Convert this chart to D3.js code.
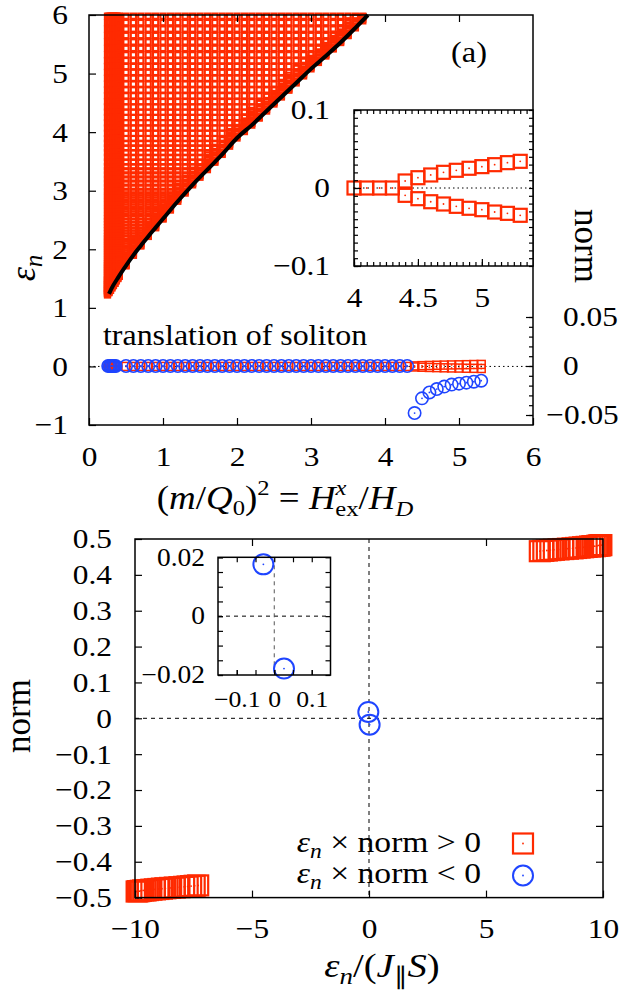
<!DOCTYPE html>
<html>
<head>
<meta charset="utf-8">
<script src="https://cdn.jsdelivr.net/npm/d3@7"></script>
<style>
body { margin: 0; background: #fff; }
svg { font-family: "Liberation Serif", "Times New Roman", serif; font-size: 28px; }
svg text { fill: #000; }
</style>
</head>
<body>
<svg id="fig" width="621" height="992"></svg>
<script>
// ---- top panel: spectrum columns (x) and lower band edge of each column
var specX = [0.25, 0.27, 0.29, 0.31, 0.33, 0.35, 0.37, 0.39, 0.41,
  0.5, 0.6, 0.7, 0.8, 0.9, 1.0, 1.1, 1.2, 1.3, 1.4, 1.5, 1.6, 1.7, 1.8, 1.9, 2.0,
  2.1, 2.2, 2.3, 2.4, 2.5, 2.6, 2.7, 2.8, 2.9, 3.0, 3.1, 3.2, 3.3, 3.4, 3.5, 3.6, 3.7];
var specLow = [1.22, 1.26, 1.30, 1.34, 1.38, 1.42, 1.46, 1.50, 1.54,
  1.72, 1.90, 2.06, 2.22, 2.37, 2.52, 2.67, 2.82, 2.96, 3.10, 3.23, 3.36, 3.49, 3.62, 3.76, 3.90,
  4.01, 4.12, 4.24, 4.36, 4.48, 4.60, 4.72, 4.84, 4.96, 5.08, 5.19, 5.30, 5.42, 5.53, 5.65, 5.78, 5.90];
// levels seen in the band (rows shared by the columns), read from the top down
var bandLevels = [5.98, 5.87, 5.76, 5.65, 5.54, 5.43, 5.32, 5.22, 5.12, 5.02, 4.92, 4.82, 4.72, 4.62,
  4.52, 4.43, 4.34, 4.25, 4.16, 4.07, 3.98, 3.89, 3.81, 3.73, 3.65, 3.57, 3.49, 3.41, 3.34, 3.27,
  3.20, 3.13, 3.06, 2.99, 2.93, 2.87, 2.81, 2.75, 2.69, 2.63, 2.57, 2.52, 2.47, 2.42, 2.37, 2.32,
  2.27, 2.22, 2.18, 2.14, 2.10, 2.06, 2.02, 1.98, 1.94, 1.90, 1.86, 1.82, 1.78, 1.75, 1.72, 1.69,
  1.66, 1.63, 1.60, 1.57, 1.54, 1.51, 1.48, 1.45, 1.42, 1.39, 1.36, 1.33, 1.30, 1.27, 1.24];
// dense levels just above each column's edge
var edgeLevels = [0.0, 0.03, 0.07, 0.12, 0.18, 0.25];
// black curve: lower band edge
var edgeX = [0.27, 0.3, 0.4, 0.5, 0.6, 0.7, 0.8, 0.9, 1.0, 1.2, 1.4, 1.6, 1.8, 2.0, 2.2, 2.4, 2.6, 2.8, 3.0, 3.2, 3.4, 3.6, 3.77];
var edgeY = [1.24, 1.32, 1.53, 1.72, 1.90, 2.06, 2.22, 2.37, 2.52, 2.82, 3.10, 3.36, 3.62, 3.90, 4.12, 4.36, 4.60, 4.84, 5.08, 5.30, 5.53, 5.78, 6.0];
// zero (translation) mode
var zeroX = [0.26, 0.28, 0.30, 0.32, 0.34, 0.36,
  0.5, 0.6, 0.7, 0.8, 0.9, 1.0, 1.1, 1.2, 1.3, 1.4, 1.5, 1.6, 1.7, 1.8, 1.9, 2.0, 2.1, 2.2,
  2.3, 2.4, 2.5, 2.6, 2.7, 2.8, 2.9, 3.0, 3.1, 3.2, 3.3, 3.4, 3.5, 3.6, 3.7, 3.8, 3.9, 4.0,
  4.1, 4.2, 4.3];
var splitX = [4.4, 4.5, 4.6, 4.7, 4.8, 4.9, 5.0, 5.1, 5.2, 5.3];
var splitUp = [0.0090, 0.0132, 0.0167, 0.0201, 0.0227, 0.0253, 0.0274, 0.0299, 0.0325, 0.0342];
var splitDown = [-0.0094, -0.0137, -0.0176, -0.0205, -0.0235, -0.0260, -0.0278, -0.0308, -0.0325, -0.0350];
var splitNorm = [-0.048, -0.033, -0.027, -0.0235, -0.021, -0.019, -0.018, -0.017, -0.016, -0.015];
var insetZeroX = [4.0, 4.1, 4.2, 4.3];

// ---- bottom panel
var posEps = [7.3, 7.45, 7.6, 7.75, 7.9, 8.1, 8.3, 8.5, 8.7, 8.85, 9.0, 9.15, 9.3, 9.45, 9.55, 9.65, 9.75, 9.82, 9.88, 9.93];
var posNorm = [0.466, 0.467, 0.468, 0.469, 0.470, 0.471, 0.472, 0.473, 0.474, 0.475, 0.476, 0.477, 0.478, 0.479, 0.480, 0.480, 0.481, 0.482, 0.482, 0.483];
var negEps = [-9.93, -9.88, -9.82, -9.75, -9.65, -9.55, -9.45, -9.3, -9.15, -9.0, -8.85, -8.7, -8.5, -8.3, -8.1, -7.9, -7.75, -7.6, -7.45, -7.3];
var negNorm = [-0.483, -0.482, -0.482, -0.481, -0.480, -0.480, -0.479, -0.478, -0.477, -0.476, -0.475, -0.474, -0.473, -0.472, -0.471, -0.470, -0.469, -0.468, -0.467, -0.466];
var zmEps = [-0.029, 0.026];
var zmNorm = [0.0176, -0.0178];

var RED = "#ff2a00", BLUE = "#1f45ff";
var STRETCH = 1.12;   // glyphs in the figure are wider than tall
var svg = d3.select("#fig");

// scales
var x = d3.scaleLinear().domain([0, 6]).range([89, 533]);
var y = d3.scaleLinear().domain([-1, 6]).range([425, 15]);
var y2 = d3.scaleLinear().domain([-0.05, 0.05]).range([415, 317]);
var xi = d3.scaleLinear().domain([4, 5.4]).range([354, 533]);
var yi = d3.scaleLinear().domain([-0.1, 0.1]).range([266, 110]);
var xb = d3.scaleLinear().domain([-10, 10]).range([135, 603]);
var yb = d3.scaleLinear().domain([-0.5, 0.5]).range([897.6, 539]);
var xbi = d3.scaleLinear().domain([-0.15, 0.15]).range([218, 330.5]);
var ybi = d3.scaleLinear().domain([-0.02, 0.02]).range([675, 557.3]);

function axis(gen, scale, vals, len, fmt, pad, tr) {
  var a = gen(scale).tickValues(vals).tickSizeInner(-len).tickSizeOuter(0).tickPadding(pad)
    .tickFormat(fmt === null ? "" : d3.format(fmt));
  var g = svg.append("g").attr("transform", tr).call(a);
  g.attr("font-size", null).attr("font-family", null);
  g.select(".domain").remove();
  g.selectAll("line").attr("stroke", "#000").attr("stroke-width", 1.2);
  g.selectAll("text").attr("fill", "#000");
  return g;
}
function range(a, b, s) { return d3.range(Math.round((b - a) / s) + 1).map(function(i){ return +(a + i * s).toFixed(4); }); }

function squares(g, pts, size, sw, color) {
  var s = g.selectAll(null).data(pts).enter();
  s.append("rect").attr("x", function(d){ return d[0] - size / 2; }).attr("y", function(d){ return d[1] - size / 2; })
    .attr("width", size).attr("height", size).attr("fill", "none").attr("stroke", color).attr("stroke-width", sw);
  s.append("circle").attr("cx", function(d){ return d[0]; }).attr("cy", function(d){ return d[1]; })
    .attr("r", 0.9).attr("fill", color);
}
function circles(g, pts, r, sw, color) {
  var s = g.selectAll(null).data(pts).enter();
  s.append("circle").attr("cx", function(d){ return d[0]; }).attr("cy", function(d){ return d[1]; })
    .attr("r", r).attr("fill", "none").attr("stroke", color).attr("stroke-width", sw);
  s.append("circle").attr("cx", function(d){ return d[0]; }).attr("cy", function(d){ return d[1]; })
    .attr("r", 0.9).attr("fill", color);
}

// ================= TOP PANEL =================
svg.append("line").attr("x1", x(0)).attr("x2", x(6)).attr("y1", y(0)).attr("y2", y(0))
  .attr("stroke", "#000").attr("stroke-width", 1).attr("stroke-dasharray", "1.5,3");

// spectrum
var specPts = [];
specX.forEach(function(cx, i) {
  var lo = specLow[i];
  bandLevels.forEach(function(e){ if (e >= lo) specPts.push([x(cx), y(e)]); });
  edgeLevels.forEach(function(o){ if (lo + o <= 6) specPts.push([x(cx), y(lo + o)]); });
});
svg.append("g").selectAll("rect").data(specPts).enter().append("rect")
  .attr("x", function(d){ return d[0] - 2.6; }).attr("y", function(d){ return d[1] - 2.6; })
  .attr("width", 5.2).attr("height", 5.2).attr("fill", "none").attr("stroke", RED).attr("stroke-width", 2.1);

// band edge
svg.append("path").datum(edgeX.map(function(v, i){ return [v, edgeY[i]]; }))
  .attr("d", d3.line().x(function(d){ return x(d[0]); }).y(function(d){ return y(d[1]); }).curve(d3.curveMonotoneX))
  .attr("fill", "none").attr("stroke", "#000").attr("stroke-width", 4);

// zero mode: eigenvalues (red, left axis) and norms (blue, right axis)
var gZ = svg.append("g");
squares(gZ, zeroX.map(function(v){ return [x(v), y(0)]; }), 8, 1.5, RED);
squares(gZ, splitX.map(function(v, i){ return [x(v), y(splitUp[i])]; }), 8, 1.5, RED);
squares(gZ, splitX.map(function(v, i){ return [x(v), y(splitDown[i])]; }), 8, 1.5, RED);
circles(gZ, zeroX.map(function(v){ return [x(v), y2(0)]; }), 6.2, 1.6, BLUE);
circles(gZ, splitX.map(function(v, i){ return [x(v), y2(splitNorm[i])]; }), 6.2, 1.6, BLUE);

// frame + axes
svg.append("rect").attr("x", 89).attr("y", 15).attr("width", 444).attr("height", 410)
  .attr("fill", "none").attr("stroke", "#000").attr("stroke-width", 1.5);
axis(d3.axisLeft, y, range(-1, 6, 1), 7, "d", 21, "translate(89,0)");
axis(d3.axisBottom, x, range(0, 6, 1), 7, "d", 21, "translate(0,425)");
axis(d3.axisTop, x, range(1, 5, 1), 7, null, 0, "translate(0,15)");
axis(d3.axisRight, y2, range(-0.05, 0.05, 0.01), 4, null, 0, "translate(533,0)");
var gy2 = axis(d3.axisRight, y2, [-0.05, 0, 0.05], 7, "", 30, "translate(533,0)");
gy2.selectAll("text").attr("dx", function(d){ return d < 0 ? -15 : 0; });

// inset (top)
svg.append("rect").attr("x", 354).attr("y", 110).attr("width", 179).attr("height", 156).attr("fill", "#fff");
svg.append("line").attr("x1", 354).attr("x2", 533).attr("y1", yi(0)).attr("y2", yi(0))
  .attr("stroke", "#000").attr("stroke-width", 1).attr("stroke-dasharray", "1.5,3");
var gI = svg.append("g");
squares(gI, insetZeroX.map(function(v){ return [xi(v), yi(0)]; }), 13, 2.2, RED);
squares(gI, splitX.map(function(v, i){ return [xi(v), yi(splitUp[i])]; }), 13, 2.2, RED);
squares(gI, splitX.map(function(v, i){ return [xi(v), yi(splitDown[i])]; }), 13, 2.2, RED);
svg.append("rect").attr("x", 354).attr("y", 110).attr("width", 179).attr("height", 156)
  .attr("fill", "none").attr("stroke", "#000").attr("stroke-width", 1.5);
axis(d3.axisLeft, yi, range(-0.1, 0.1, 0.01), 4, null, 0, "translate(354,0)");
axis(d3.axisRight, yi, range(-0.1, 0.1, 0.01), 4, null, 0, "translate(533,0)");
axis(d3.axisLeft, yi, [-0.1, 0, 0.1], 7, "", 24, "translate(354,0)");
axis(d3.axisBottom, xi, range(4, 5.35, 0.05), 4, null, 0, "translate(0,266)");
axis(d3.axisTop, xi, range(4, 5.35, 0.05), 4, null, 0, "translate(0,110)");
axis(d3.axisBottom, xi, [4, 4.5, 5], 7, "", 21, "translate(0,266)");

// labels (top)
svg.append("text").attr("x", 103).attr("y", 345).attr("font-size", 28.5).text("translation of soliton");
svg.append("text").attr("x", 469).attr("y", 62).attr("text-anchor", "middle").attr("font-size", 29).text("(a)");
var tl = svg.append("text").attr("transform", "translate(35,268) rotate(-90)").attr("text-anchor", "middle").attr("font-size", 36);
tl.append("tspan").attr("font-style", "italic").text("ε");
tl.append("tspan").attr("font-style", "italic").attr("font-size", 25).attr("dy", 7).text("n");
svg.append("text").attr("transform", "translate(575,246) rotate(90)").attr("text-anchor", "middle").attr("font-size", 35).text("norm");

var xl = svg.append("text").attr("x", 285).attr("y", 509).attr("text-anchor", "middle").attr("font-size", 33);
xl.append("tspan").text("(");
xl.append("tspan").attr("font-style", "italic").text("m");
xl.append("tspan").text("/");
xl.append("tspan").attr("font-style", "italic").text("Q");
xl.append("tspan").attr("font-size", 22).attr("dy", 6).text("0");
xl.append("tspan").attr("dy", -6).text(")");
xl.append("tspan").attr("font-size", 22).attr("dy", -14).text("2");
xl.append("tspan").attr("dy", 14).text(" = ");
xl.append("tspan").attr("font-style", "italic").text("H");
xl.append("tspan").attr("font-style", "italic").attr("font-size", 22).attr("dy", -14).text("x");
xl.append("tspan").attr("font-size", 22).attr("dx", -10).attr("dy", 21).text("ex");
xl.append("tspan").attr("dy", -7).text("/");
xl.append("tspan").attr("font-style", "italic").text("H");
xl.append("tspan").attr("font-style", "italic").attr("font-size", 22).attr("dy", 7).text("D");

// ================= BOTTOM PANEL =================
svg.append("line").attr("x1", xb(-10)).attr("x2", xb(10)).attr("y1", yb(0)).attr("y2", yb(0))
  .attr("stroke", "#000").attr("stroke-width", 1).attr("stroke-dasharray", "4,4");
svg.append("line").attr("x1", xb(0)).attr("x2", xb(0)).attr("y1", yb(0.5)).attr("y2", yb(-0.5))
  .attr("stroke", "#000").attr("stroke-width", 1).attr("stroke-dasharray", "4,4");

var gB = svg.append("g");
squares(gB, posEps.map(function(v, i){ return [xb(v), yb(posNorm[i])]; }), 20, 2.2, RED);
squares(gB, negEps.map(function(v, i){ return [xb(v), yb(negNorm[i])]; }), 20, 2.2, RED);
circles(gB, zmEps.map(function(v, i){ return [xb(v), yb(zmNorm[i])]; }), 10, 2, BLUE);

svg.append("rect").attr("x", 135).attr("y", 539).attr("width", 468).attr("height", 358.6)
  .attr("fill", "none").attr("stroke", "#000").attr("stroke-width", 1.5);
axis(d3.axisLeft, yb, range(-0.5, 0.5, 0.1), 7, "", 23, "translate(135,0)");
axis(d3.axisRight, yb, range(-0.4, 0.4, 0.1), 7, null, 0, "translate(603,0)");
axis(d3.axisBottom, xb, range(-10, 10, 5), 7, "d", 21, "translate(0,897.6)");
axis(d3.axisTop, xb, [-5, 5], 7, null, 0, "translate(0,539)");

// inset (bottom)
svg.append("rect").attr("x", 218).attr("y", 557.3).attr("width", 112.5).attr("height", 117.7).attr("fill", "#fff");
svg.append("line").attr("x1", 218).attr("x2", 330.5).attr("y1", ybi(0)).attr("y2", ybi(0))
  .attr("stroke", "#000").attr("stroke-width", 1).attr("stroke-dasharray", "4,4");
svg.append("line").attr("x1", xbi(0)).attr("x2", xbi(0)).attr("y1", 557.3).attr("y2", 675)
  .attr("stroke", "#555").attr("stroke-width", 1).attr("stroke-dasharray", "4,4");
circles(svg.append("g"), zmEps.map(function(v, i){ return [xbi(v), ybi(zmNorm[i])]; }), 10, 2, BLUE);
svg.append("rect").attr("x", 218).attr("y", 557.3).attr("width", 112.5).attr("height", 117.7)
  .attr("fill", "none").attr("stroke", "#000").attr("stroke-width", 1.5);
axis(d3.axisLeft, ybi, range(-0.02, 0.02, 0.005), 5, null, 0, "translate(218,0)");
axis(d3.axisRight, ybi, range(-0.02, 0.02, 0.005), 5, null, 0, "translate(330.5,0)");
axis(d3.axisLeft, ybi, [-0.02, 0, 0.02], 5, "", 13, "translate(218,0)")
  .selectAll("text").attr("font-size", 24.5);
axis(d3.axisTop, xbi, range(-0.1, 0.1, 0.05), 5, null, 0, "translate(0,557.3)");
axis(d3.axisBottom, xbi, range(-0.1, 0.1, 0.05), 5, null, 0, "translate(0,675)");
axis(d3.axisBottom, xbi, [-0.1, 0, 0.1], 5, "", 16, "translate(0,675)")
  .selectAll("text").attr("font-size", 23);

// legend
var lg1 = svg.append("text").attr("x", 481).attr("y", 852).attr("text-anchor", "end").attr("font-size", 30);
lg1.append("tspan").attr("font-style", "italic").text("ε");
lg1.append("tspan").attr("font-style", "italic").attr("font-size", 21).attr("dy", 6).text("n");
lg1.append("tspan").attr("dy", -6).text(" × norm > 0");
var lg2 = svg.append("text").attr("x", 481).attr("y", 883).attr("text-anchor", "end").attr("font-size", 30);
lg2.append("tspan").attr("font-style", "italic").text("ε");
lg2.append("tspan").attr("font-style", "italic").attr("font-size", 21).attr("dy", 6).text("n");
lg2.append("tspan").attr("dy", -6).text(" × norm < 0");
squares(svg.append("g"), [[523, 843.5]], 20, 2.2, RED);
circles(svg.append("g"), [[523, 875.5]], 10, 2, BLUE);

// axis labels (bottom)
svg.append("text").attr("transform", "translate(30,716) rotate(-90)").attr("text-anchor", "middle").attr("font-size", 35).text("norm");
var bl = svg.append("text").attr("x", 382).attr("y", 977).attr("text-anchor", "middle").attr("font-size", 34.5);
bl.append("tspan").attr("font-style", "italic").text("ε");
bl.append("tspan").attr("font-style", "italic").attr("font-size", 24).attr("dy", 7).text("n");
bl.append("tspan").attr("dy", -7).text("/(");
bl.append("tspan").attr("font-style", "italic").text("J");
bl.append("tspan").attr("font-size", 24).attr("dy", 7).text("∥");
bl.append("tspan").attr("font-style", "italic").attr("dy", -7).text("S");
bl.append("tspan").text(")");

// widen horizontal texts about their anchor (rotated labels keep their shape)
svg.selectAll("text").each(function() {
  var t = d3.select(this), tr = t.attr("transform") || "";
  if (tr.indexOf("rotate") >= 0) return;
  var ax = +(t.attr("x") || 0);
  t.attr("transform", "translate(" + ax + ",0) scale(" + STRETCH + ",1) translate(" + (-ax) + ",0)");
});
</script>
</body>
</html>
